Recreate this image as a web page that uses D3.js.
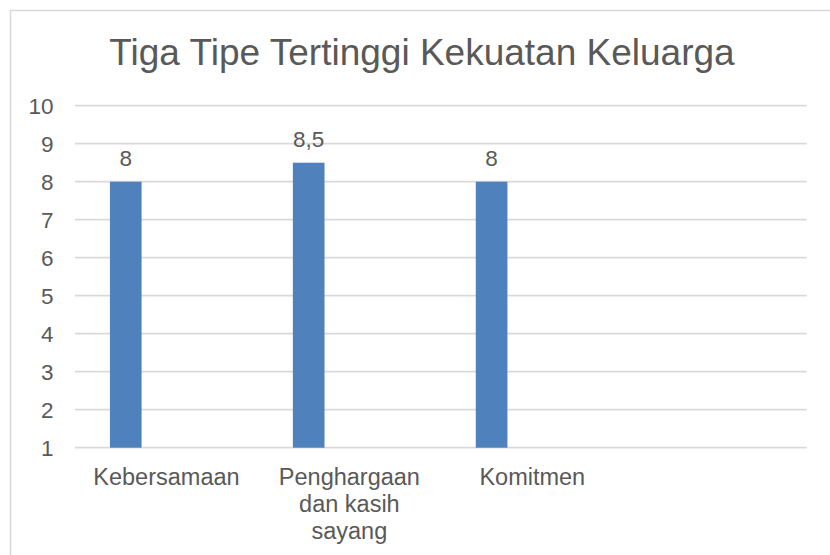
<!DOCTYPE html>
<html>
<head>
<meta charset="utf-8">
<script src="https://cdn.jsdelivr.net/npm/d3@7"></script>
<style>
  html, body { margin: 0; padding: 0; background: #fff; }
  svg { display: block; }
  text { font-family: "Liberation Sans", Arial, sans-serif; fill: #595959; }
</style>
</head>
<body>
<svg id="chart" width="830" height="555"></svg>
<script>
// ---- data ----
const title = "Tiga Tipe Tertinggi Kekuatan Keluarga";
const categories = ["Kebersamaan", "Penghargaan dan kasih sayang", "Komitmen", ""];
const values = [8, 8.5, 8, null];
const valueLabels = ["8", "8,5", "8", ""];
const yTicks = [1, 2, 3, 4, 5, 6, 7, 8, 9, 10];

// ---- layout ----
const plot = { left: 75, right: 806.7, top: 105.7, bottom: 447.7 };
const svg = d3.select("#chart");

// outer chart border (extends past the crop on right/bottom)
svg.append("rect")
  .attr("x", 10.5).attr("y", 10.5)
  .attr("width", 840).attr("height", 600)
  .attr("fill", "none").attr("stroke", "#D9D9D9").attr("stroke-width", 1.5);

const x = d3.scaleBand().domain(d3.range(categories.length))
  .range([plot.left, plot.right]).paddingInner(0).paddingOuter(0);
const y = d3.scaleLinear().domain([1, 10]).range([plot.bottom, plot.top]);

// gridlines
svg.append("g").selectAll("line").data(yTicks).join("line")
  .attr("x1", plot.left).attr("x2", plot.right)
  .attr("y1", d => y(d)).attr("y2", d => y(d))
  .attr("stroke", "#D9D9D9").attr("stroke-width", 1.8);

// y axis labels via d3 axis
const yAxis = d3.axisLeft(y).tickValues(yTicks).tickSize(0).tickPadding(0).tickFormat(d3.format("d"));
const gy = svg.append("g").attr("transform", `translate(${53.5},0)`).call(yAxis);
gy.select(".domain").remove();
gy.selectAll("text").attr("font-size", 22.5).style("fill", "#595959")
  .attr("font-family", "Liberation Sans, Arial, sans-serif").attr("dy", "0.36em");

// bars
const bw = x.bandwidth();
const barOff = bw * 0.191, barW = bw * 0.173;
const barData = values.map((v, i) => ({ v, i })).filter(d => d.v != null);
svg.append("g").selectAll("rect").data(barData).join("rect")
  .attr("x", d => x(d.i) + barOff)
  .attr("y", d => y(d.v))
  .attr("width", barW)
  .attr("height", d => y(1) - y(d.v))
  .attr("fill", "#4F81BD");

// data labels
svg.append("g").selectAll("text").data(barData).join("text")
  .attr("x", d => x(d.i) + barOff + barW / 2)
  .attr("y", d => y(d.v) - 15.5)
  .attr("text-anchor", "middle")
  .attr("font-size", 22.5)
  .text(d => valueLabels[d.i]);

// category labels with wrapping
function wrapWords(str, maxW, size) {
  const ctx = document.createElement("canvas").getContext("2d");
  ctx.font = `${size}px "Liberation Sans", Arial, sans-serif`;
  const words = str.split(" ");
  const lines = [];
  let cur = "";
  words.forEach(w => {
    const t = cur ? cur + " " + w : w;
    if (cur && ctx.measureText(t).width > maxW) { lines.push(cur); cur = w; }
    else cur = t;
  });
  if (cur) lines.push(cur);
  return lines;
}
const catSize = 23.5;
const gx = svg.append("g");
categories.forEach((c, i) => {
  if (!c) return;
  const lines = wrapWords(c, 152, catSize);
  const t = gx.append("text")
    .attr("x", x(i) + bw / 2)
    .attr("y", 484.5)
    .attr("text-anchor", "middle")
    .attr("font-size", catSize);
  lines.forEach((ln, k) => {
    t.append("tspan").attr("x", x(i) + bw / 2).attr("dy", k === 0 ? 0 : 27).text(ln);
  });
});

// title
svg.append("text")
  .attr("x", 422).attr("y", 64.5)
  .attr("text-anchor", "middle")
  .attr("font-size", 37)
  .text(title);
</script>
</body>
</html>
